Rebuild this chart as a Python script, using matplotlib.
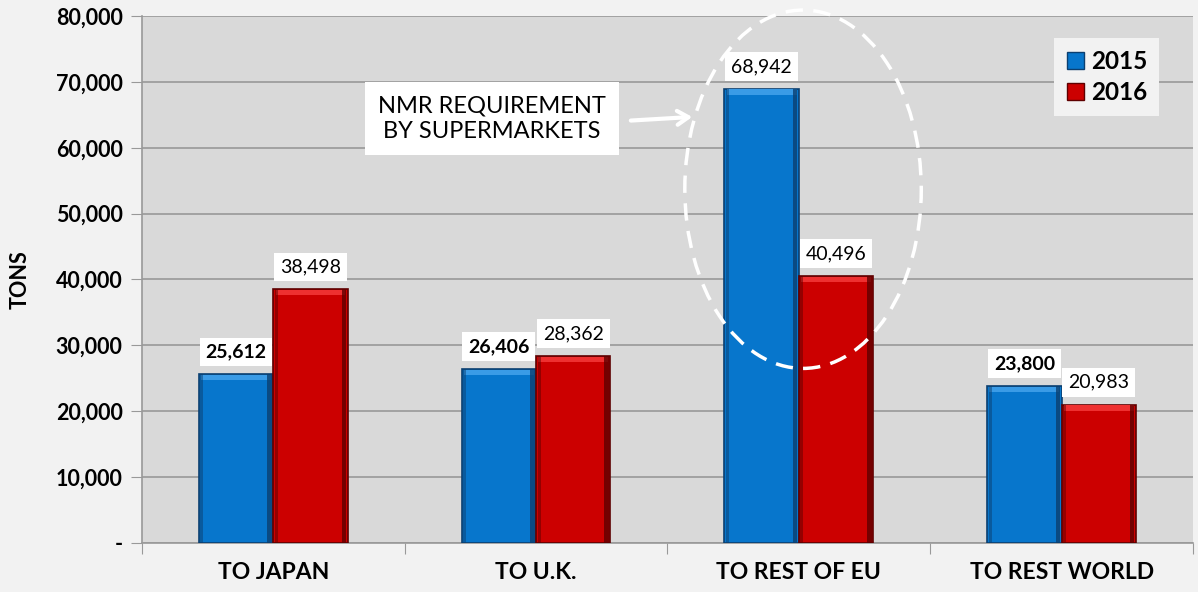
import matplotlib.pyplot as plt
from matplotlib.patches import Ellipse, Patch
from matplotlib.ticker import FuncFormatter
import numpy as np

plt.rcParams['font.family'] = ['Lato', 'DejaVu Sans']

categories = ["TO JAPAN", "TO U.K.", "TO REST OF EU", "TO REST WORLD"]
tons_2015 = [25612, 26406, 68942, 23800]
tons_2016 = [38498, 28362, 40496, 20983]
bold_2015 = [True, True, False, True]  # the EU label is not bold in the original
y_ticks = [0, 10000, 20000, 30000, 40000, 50000, 60000, 70000, 80000]

blue, blue_dark, blue_light = "#0776cc", "#0b3f70", "#3a9be6"
red, red_dark, red_light = "#cc0000", "#5e0000", "#ee3030"

fig = plt.figure(figsize=(11.98, 5.92), dpi=100, facecolor="#f2f2f2")
ax = fig.add_axes([0.1185, 0.0828, 0.8773, 0.8902])
ax.set_facecolor("#d9d9d9")

x = np.arange(len(categories))
w = 0.283


def bevel_bars(xpos, vals, base, dark, light):
    ax.bar(xpos, vals, w, color=base, edgecolor=dark, linewidth=1.2, zorder=3)
    # lighter top edge and darker right edge for the bevel look
    ax.bar(xpos, [800] * len(vals), w * 0.94, bottom=[v - 900 for v in vals],
           color=light, linewidth=0, zorder=4)
    ax.bar(xpos + w * 0.45, vals, w * 0.06, color=dark, linewidth=0, zorder=4, alpha=0.8)
    ax.bar(xpos - w * 0.46, vals, w * 0.04, color=dark, linewidth=0, zorder=4, alpha=0.5)


bevel_bars(x - w / 2, tons_2015, blue, blue_dark, blue_light)
bevel_bars(x + w / 2, tons_2016, red, red_dark, red_light)

box = dict(boxstyle="square,pad=0.3", facecolor="white", edgecolor="none")
for i in range(len(categories)):
    ax.annotate(f"{tons_2015[i]:,}", (x[i] - w / 2, tons_2015[i]), xytext=(0, 10),
                textcoords="offset points", ha="center", va="bottom", fontsize=14,
                fontweight="bold" if bold_2015[i] else "normal", bbox=box, zorder=6)
    ax.annotate(f"{tons_2016[i]:,}", (x[i] + w / 2, tons_2016[i]), xytext=(0, 10),
                textcoords="offset points", ha="center", va="bottom", fontsize=14,
                bbox=box, zorder=6)

ax.set_xlim(-0.5, 3.5)
ax.set_ylim(0, 80000)
ax.set_yticks(y_ticks)
ax.yaxis.set_major_formatter(FuncFormatter(lambda v, p: "-" if v == 0 else f"{int(v):,}"))
ax.grid(axis="y", color="#999999", linewidth=1.2, zorder=0)
ax.set_axisbelow(True)

ax.set_xticks(np.arange(-0.5, 4, 1))
ax.set_xticklabels([])
ax.set_xticks(x, minor=True)
ax.set_xticklabels(categories, minor=True)
ax.tick_params(axis="x", which="minor", length=0, pad=14, labelsize=16.5)
ax.tick_params(axis="x", which="major", length=8, color="#999999")
ax.tick_params(axis="y", length=8, color="#999999", labelsize=15.5, pad=6)
for lab in ax.get_xticklabels(minor=True) + ax.get_yticklabels():
    lab.set_fontweight("bold")

for s in ["top", "right"]:
    ax.spines[s].set_visible(False)
for s in ["left", "bottom"]:
    ax.spines[s].set_color("#999999")
    ax.spines[s].set_linewidth(1.2)

ax.set_ylabel("TONS", fontsize=15.5, fontweight="bold", labelpad=18)

# highlight ring around the EU bars
ring = Ellipse((2.016, 53700), 0.90, 54400, fill=False, edgecolor="white",
               linewidth=2.5, linestyle=(0, (5, 3)), zorder=7, clip_on=False)
ax.add_patch(ring)

ax.annotate("", xy=(1.605, 64700), xytext=(1.35, 64100),
            arrowprops=dict(arrowstyle="->,head_length=0.8,head_width=0.5",
                            color="white", lw=3), zorder=7)
ax.text(0.832, 64400, "NMR REQUIREMENT\nBY SUPERMARKETS", ha="center", va="center",
        fontsize=17, linespacing=1.3, zorder=8,
        bbox=dict(boxstyle="square,pad=0.55", facecolor="white", edgecolor="none"))

handles = [Patch(facecolor=blue, edgecolor=blue_dark, label="2015"),
           Patch(facecolor=red, edgecolor=red_dark, label="2016")]
leg = ax.legend(handles=handles, loc="upper right", bbox_to_anchor=(0.968, 0.958),
                frameon=True, fancybox=False, framealpha=1, edgecolor="none",
                facecolor="#f2f2f2", handlelength=0.7, handleheight=0.7,
                handletextpad=0.3, prop={"weight": "bold", "size": 17.5},
                borderpad=0.5, labelspacing=0.3, borderaxespad=0)

fig.savefig("out.png", dpi=100, facecolor=fig.get_facecolor())
